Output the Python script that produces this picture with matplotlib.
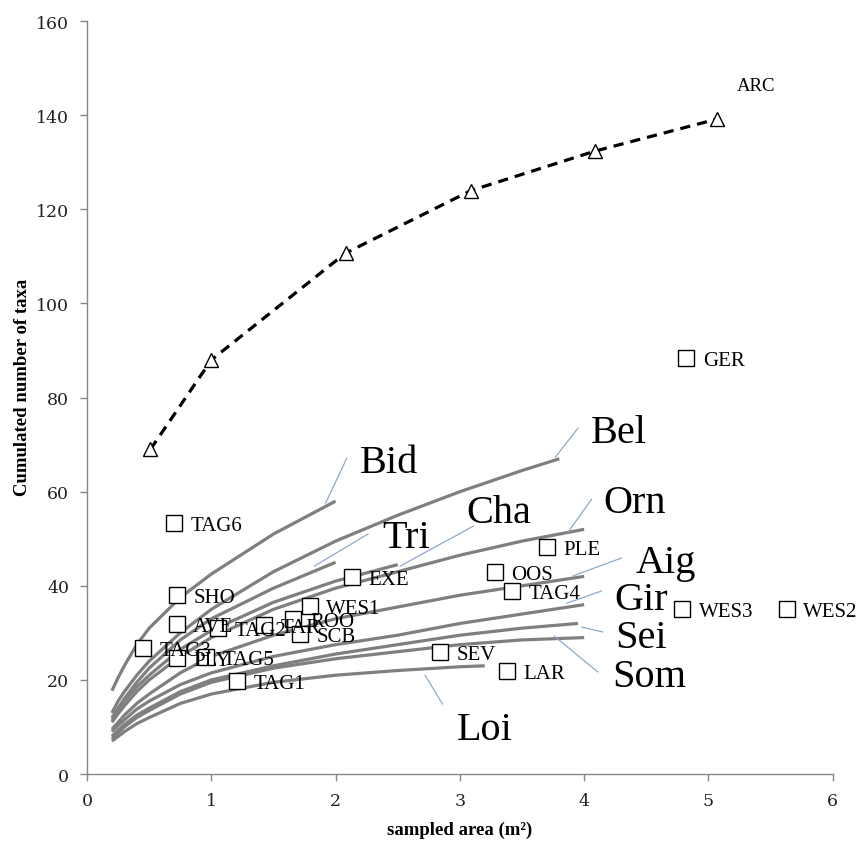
import matplotlib
matplotlib.use("Agg")
import matplotlib.pyplot as plt

# ARC cumulated curve (triangles, dashed)
arc_x = [0.51, 1.0, 2.08, 3.09, 4.09, 5.07]
arc_y = [69, 88, 110.7, 124, 132.4, 139.2]

# single sites (open squares)
site_names = ["TAG6", "SHO", "AVE", "TAG3", "PLY", "TAG5", "TAG2", "TAR", "ROO",
              "WES1", "SCB", "TAG1", "EXE", "OOS", "PLE", "TAG4", "SEV", "LAR",
              "WES3", "WES2", "GER"]
site_x = [0.70, 0.72, 0.72, 0.45, 0.72, 0.96, 1.05, 1.42, 1.66,
          1.79, 1.71, 1.21, 2.13, 3.28, 3.70, 3.42, 2.84, 3.38,
          4.79, 5.63, 4.82]
site_y = [53.3, 38, 31.8, 26.8, 24.6, 24.9, 31.0, 31.7, 32.9,
          35.7, 29.7, 19.8, 41.9, 42.9, 48.2, 38.9, 25.9, 21.9,
          35.1, 35.1, 88.4]

# rarefaction curves of the basins (grey lines)
area_2 = [0.2, 0.25, 0.3, 0.4, 0.5, 0.75, 1, 1.5, 2]
area_25 = area_2 + [2.5]
area_32 = area_2 + [2.5, 3, 3.2]
area_38 = area_2 + [2.5, 3, 3.5, 3.8]
area_395 = area_2 + [2.5, 3, 3.5, 3.95]
area_4 = area_2 + [2.5, 3, 3.5, 4]

bid_y = [17.7, 20.5, 23, 27.5, 31, 37.5, 42.5, 51, 58]
bel_y = [13, 15.5, 17.5, 21, 24, 30, 35, 43, 49.5, 55, 60, 64.5, 67]
tri_y = [12, 14, 16, 19.5, 22.5, 28.5, 33, 39.5, 45]
cha_y = [11.5, 13.5, 15.5, 18.5, 21, 26.5, 30.5, 36.5, 41, 44.5]
orn_y = [11, 12.8, 14.5, 17.5, 20, 25, 29, 35, 39.5, 43, 46.5, 49.5, 52]
aig_y = [9.5, 11, 12.5, 15, 17, 21.5, 25, 29.5, 33, 35.5, 38, 40, 42]
gir_y = [9, 10.3, 11.5, 13.8, 15.5, 19, 21.5, 25, 27.5, 29.5, 32, 34, 36]
sei_y = [8, 9.3, 10.5, 12.5, 14, 17.5, 20, 23, 25.5, 27.5, 29.5, 31, 32]
som_y = [7.5, 8.8, 10, 12, 13.5, 17, 19.5, 22.5, 24.5, 26, 27.5, 28.5, 29]
loi_y = [7, 8, 9, 10.7, 12, 15, 17, 19.5, 21, 22, 22.8, 23]

curves = [(area_2, bid_y), (area_38, bel_y), (area_2, tri_y), (area_25, cha_y),
          (area_4, orn_y), (area_4, aig_y), (area_4, gir_y), (area_395, sei_y),
          (area_4, som_y), (area_32, loi_y)]

# curve labels and their leader lines
curve_names = ["Bid", "Bel", "Tri", "Cha", "Orn", "Aig", "Gir", "Sei", "Som", "Loi"]
label_x = [2.43, 4.28, 2.57, 3.31, 4.41, 4.66, 4.46, 4.46, 4.52, 3.2]
label_y = [64.2, 70.5, 48.2, 53.5, 55.7, 42.9, 35.1, 27.0, 18.7, 7.4]
lead_x = [(1.92, 2.09), (3.77, 3.95), (1.83, 2.26), (2.52, 3.11), (3.87, 4.06),
          (3.91, 4.30), (3.86, 4.14), (3.98, 4.15), (3.76, 4.11), (2.72, 2.86)]
lead_y = [(57.6, 67.1), (67.4, 73.5), (44.2, 51.0), (44.2, 52.7), (51.4, 58.4),
          (42.1, 45.9), (36.3, 38.9), (31.2, 30.2), (29.3, 21.7), (21.0, 14.9)]

serif = "Liberation Serif"

fig = plt.figure(figsize=(8.62, 8.45), dpi=100)
ax = fig.add_axes([0.101, 0.0828, 0.865, 0.891])

for xs, ys in curves:
    ax.plot(xs, ys, color="#7f7f7f", lw=2.3, solid_capstyle="butt", zorder=2)

for (x0, x1), (y0, y1) in zip(lead_x, lead_y):
    ax.plot([x0, x1], [y0, y1], color="#8ea9c8", lw=0.9, zorder=2)

for name, tx, ty in zip(curve_names, label_x, label_y):
    ax.text(tx, ty, name, family=serif, fontsize=29, ha="center", va="baseline",
            color="black", zorder=4)

ax.plot(arc_x, arc_y, color="black", lw=2.3, ls=(0, (3.2, 2.2)), zorder=3)
ax.plot(arc_x, arc_y, ls="none", marker="^", ms=9.5, mfc="white", mec="black",
        mew=1.0, zorder=4)
ax.annotate("ARC", (arc_x[-1], arc_y[-1]), xytext=(14.5, 21), textcoords="offset points",
            family=serif, fontsize=13.5, va="baseline", ha="left")

ax.plot(site_x, site_y, ls="none", marker="s", ms=11.5, mfc="white", mec="black",
        mew=1.0, zorder=5)
for name, sx, sy in zip(site_names, site_x, site_y):
    ax.annotate(name, (sx, sy), xytext=(12, -5), textcoords="offset points",
                family=serif, fontsize=15, va="baseline", ha="left", zorder=6)

ax.set_xlim(0, 6)
ax.set_ylim(0, 160)
ax.set_xticks(range(0, 7))
ax.set_yticks(range(0, 161, 20))
for side in ("top", "right"):
    ax.spines[side].set_visible(False)
for side in ("left", "bottom"):
    ax.spines[side].set_color("#868686")
    ax.spines[side].set_linewidth(1.0)
ax.tick_params(direction="out", length=5, width=1, color="#868686", pad=8,
               labelsize=12.5, labelcolor="#222222")
for lab in ax.get_xticklabels() + ax.get_yticklabels():
    lab.set_family("DejaVu Serif")

ax.set_xlabel("sampled area (m²)", family=serif, fontsize=13.5, fontweight="bold",
              labelpad=8)
ax.set_ylabel("Cumulated number of taxa", family=serif, fontsize=13.5,
              fontweight="bold", labelpad=12)
ax.yaxis.set_label_coords(-0.075, 0.515)

fig.savefig("out.png", dpi=100)
